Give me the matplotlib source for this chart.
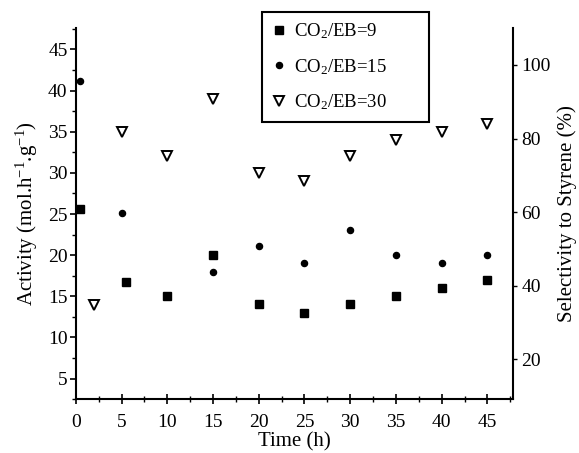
import matplotlib
matplotlib.use("Agg")
import matplotlib.pyplot as plt
from matplotlib.ticker import MultipleLocator

plt.rcParams["font.family"] = "Liberation Serif"
plt.rcParams["mathtext.fontset"] = "custom"
plt.rcParams["mathtext.rm"] = "Liberation Serif"
plt.rcParams["mathtext.it"] = "Liberation Serif:italic"

# ---------- DATA (read in left-axis units) ----------
t_eb9 = [0.5, 5.5, 10, 15, 20, 25, 30, 35, 40, 45]
y_eb9 = [25.6, 16.7, 15.0, 20.0, 14.0, 13.0, 14.0, 15.0, 16.0, 17.0]

t_eb15 = [0.5, 5, 15, 20, 25, 30, 35, 40, 45]
y_eb15 = [41.2, 25.1, 18.0, 21.1, 19.0, 23.0, 20.0, 19.0, 20.0]

t_eb30 = [2, 5, 10, 15, 20, 25, 30, 35, 40, 45]
y_eb30 = [13.9, 35.0, 32.0, 39.0, 30.0, 29.0, 32.0, 34.0, 35.0, 36.0]

x_ticks = [0, 5, 10, 15, 20, 25, 30, 35, 40, 45]
left_ticks = [5, 10, 15, 20, 25, 30, 35, 40, 45]
right_ticks = [20, 40, 60, 80, 100]

# ---------- PLOT ----------
fig = plt.figure(figsize=(5.79, 4.53), dpi=100)
ax = fig.add_axes([0.131, 0.119, 0.755, 0.819])

ax.plot(t_eb9, y_eb9, "s", color="black", markersize=6.2, linestyle="none",
        label="CO$_2$/EB=9")
ax.plot(t_eb15, y_eb15, "o", color="black", markersize=4.4, linestyle="none",
        label="CO$_2$/EB=15")
ax.plot(t_eb30, y_eb30, "v", markerfacecolor="white", markeredgecolor="black",
        markeredgewidth=1.4, markersize=7.5, linestyle="none",
        label="CO$_2$/EB=30")

ax.set_xlim(0, 47.8)
ax.set_ylim(2.5, 47.6)
ax.set_xticks(x_ticks)
ax.set_yticks(left_ticks)
ax.xaxis.set_minor_locator(MultipleLocator(2.5))
ax.yaxis.set_minor_locator(MultipleLocator(2.5))
ax.tick_params(axis="x", which="major", direction="inout", length=7, width=1.2,
               labelsize=14, pad=7)
ax.tick_params(axis="x", which="minor", direction="inout", length=5, width=1.0)
ax.tick_params(axis="y", which="major", direction="out", length=4, width=1.2,
               labelsize=14, pad=2)
ax.tick_params(axis="y", which="minor", direction="out", length=3, width=1.0)

for side in ["top", "right"]:
    ax.spines[side].set_visible(False)
for side in ["left", "bottom"]:
    ax.spines[side].set_linewidth(1.5)

ax.set_xlabel("Time (h)", fontsize=15, labelpad=1)
ax.set_ylabel("Activity (mol.h$^{-1}$.g$^{-1}$)", fontsize=15, labelpad=6)

ax2 = ax.twinx()
ax2.set_ylim(9.2, 110)
ax2.set_yticks(right_ticks)
ax2.tick_params(axis="y", direction="out", length=3, width=1.0, labelsize=14, pad=3)
for side in ["top", "left", "bottom"]:
    ax2.spines[side].set_visible(False)
ax2.spines["right"].set_linewidth(1.5)
ax2.set_ylabel("Selectivity to Styrene (%)", fontsize=15, labelpad=5)

leg = ax.legend(loc="upper left", bbox_to_anchor=(0.4525, 0.74, 0.288, 0.2335),
                bbox_transform=fig.transFigure, borderaxespad=0, mode="expand",
                fontsize=13.5, frameon=True, fancybox=False, framealpha=1,
                labelspacing=0.85, handlelength=0.8, handletextpad=0.4,
                borderpad=0.5)
leg.get_frame().set_edgecolor("black")
leg.get_frame().set_linewidth(1.5)

fig.savefig("out.png", dpi=100)
